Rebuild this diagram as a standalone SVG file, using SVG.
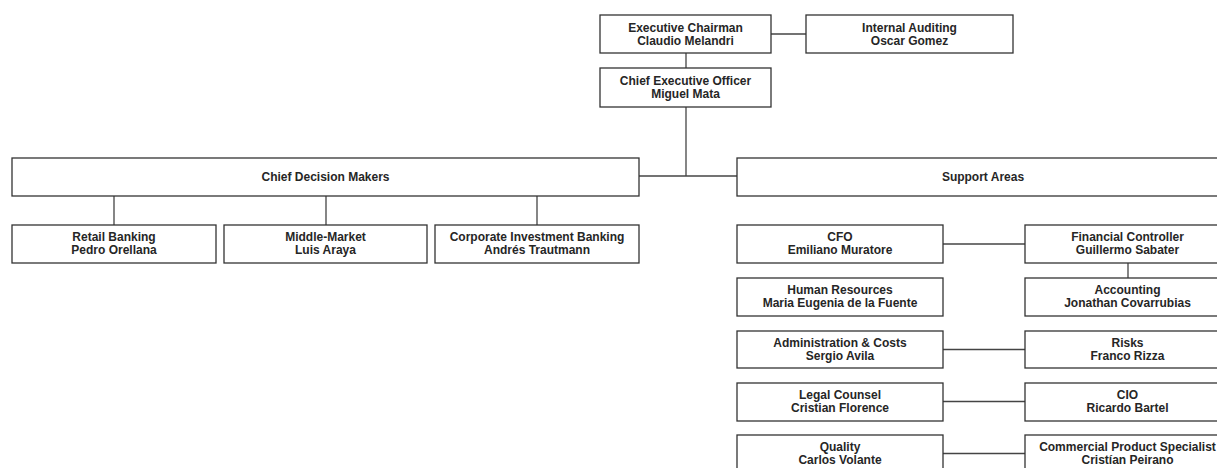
<svg xmlns="http://www.w3.org/2000/svg" width="1217" height="468" viewBox="0 0 1217 468">
<style>
.box{fill:#fff;stroke:#333;stroke-width:1.3}
.ln{stroke:#444;stroke-width:1.3;fill:none}
text{font-family:"Liberation Sans",Arial,sans-serif;font-size:12px;font-weight:bold;fill:#262626;text-anchor:middle}
</style>
<rect width="1217" height="468" fill="#fff"/>
<g id="connectors">
<path class="ln" d="M771 34H806"/>
<path class="ln" d="M686 53V68"/>
<path class="ln" d="M686 107V176"/>
<path class="ln" d="M639 176H737"/>
<path class="ln" d="M114 196V225"/>
<path class="ln" d="M326 196V225"/>
<path class="ln" d="M537 196V225"/>
<path class="ln" d="M943 244H1025"/>
<path class="ln" d="M1128 263V278"/>
<path class="ln" d="M943 349.5H1025"/>
<path class="ln" d="M943 401.5H1025"/>
<path class="ln" d="M943 453.5H1025"/>
</g>
<g id="exec-chairman"><rect class="box" x="600" y="15" width="171" height="38"/><text x="685.5" y="32">Executive Chairman</text><text x="685.5" y="45">Claudio Melandri</text></g>
<g id="internal-auditing"><rect class="box" x="806" y="15" width="207" height="38"/><text x="909.5" y="32">Internal Auditing</text><text x="909.5" y="45">Oscar Gomez</text></g>
<g id="ceo"><rect class="box" x="600" y="68" width="171" height="39"/><text x="685.5" y="85">Chief Executive Officer</text><text x="685.5" y="98">Miguel Mata</text></g>
<g id="chief-decision-makers"><rect class="box" x="12" y="158" width="627" height="38"/><text x="325.5" y="181">Chief Decision Makers</text></g>
<g id="support-areas"><rect class="box" x="737" y="158" width="493" height="38"/><text x="983" y="181">Support Areas</text></g>
<g id="retail-banking"><rect class="box" x="12" y="225" width="204" height="38"/><text x="114" y="241">Retail Banking</text><text x="114" y="254">Pedro Orellana</text></g>
<g id="middle-market"><rect class="box" x="224" y="225" width="203" height="38"/><text x="325.5" y="241">Middle-Market</text><text x="325.5" y="254">Luis Araya</text></g>
<g id="corporate-investment-banking"><rect class="box" x="435" y="225" width="204" height="38"/><text x="537" y="241">Corporate Investment Banking</text><text x="537" y="254">Andrés Trautmann</text></g>
<g id="cfo"><rect class="box" x="737" y="225" width="206" height="38"/><text x="840" y="241">CFO</text><text x="840" y="254">Emiliano Muratore</text></g>
<g id="financial-controller"><rect class="box" x="1025" y="225" width="205" height="38"/><text x="1127.5" y="241">Financial Controller</text><text x="1127.5" y="254">Guillermo Sabater</text></g>
<g id="human-resources"><rect class="box" x="737" y="278" width="206" height="38"/><text x="840" y="294">Human Resources</text><text x="840" y="307">Maria Eugenia de la Fuente</text></g>
<g id="accounting"><rect class="box" x="1025" y="278" width="205" height="38"/><text x="1127.5" y="294">Accounting</text><text x="1127.5" y="307">Jonathan Covarrubias</text></g>
<g id="administration-costs"><rect class="box" x="737" y="331" width="206" height="37"/><text x="840" y="346.5">Administration &amp; Costs</text><text x="840" y="359.5">Sergio Avila</text></g>
<g id="risks"><rect class="box" x="1025" y="331" width="205" height="37"/><text x="1127.5" y="346.5">Risks</text><text x="1127.5" y="359.5">Franco Rizza</text></g>
<g id="legal-counsel"><rect class="box" x="737" y="383" width="206" height="38"/><text x="840" y="399">Legal Counsel</text><text x="840" y="412">Cristian Florence</text></g>
<g id="cio"><rect class="box" x="1025" y="383" width="205" height="38"/><text x="1127.5" y="399">CIO</text><text x="1127.5" y="412">Ricardo Bartel</text></g>
<g id="quality"><rect class="box" x="737" y="435" width="206" height="38"/><text x="840" y="451">Quality</text><text x="840" y="464">Carlos Volante</text></g>
<g id="commercial-product-specialist"><rect class="box" x="1025" y="435" width="205" height="38"/><text x="1127.5" y="451">Commercial Product Specialist</text><text x="1127.5" y="464">Cristían Peirano</text></g>
</svg>
